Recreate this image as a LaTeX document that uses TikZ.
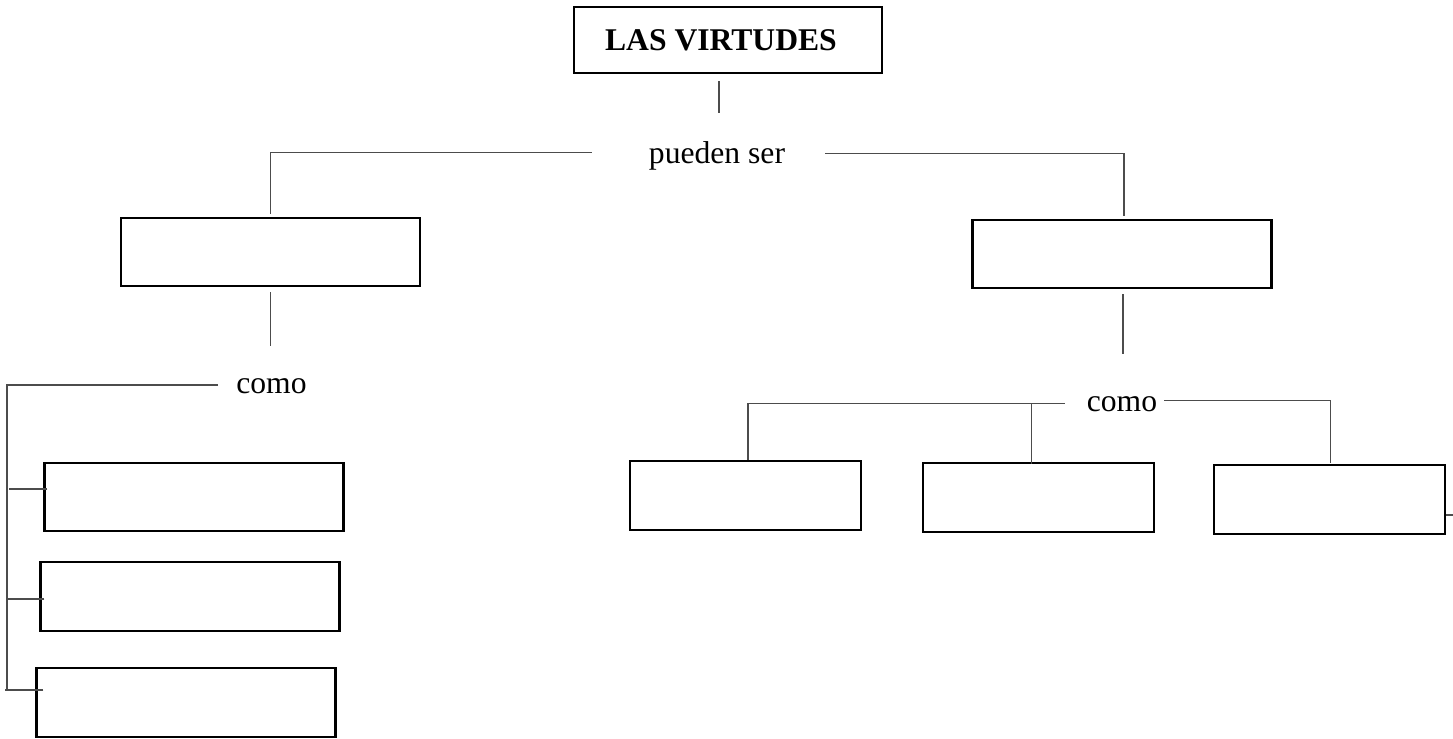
\documentclass[tikz,border=0pt]{standalone}
\usepackage{fontspec}
\setmainfont{Liberation Serif}
\tikzset{
  box/.style={draw, line width=1.3pt, inner sep=0pt, minimum width=5.98cm, minimum height=1.37cm},
  smallbox/.style={box, minimum width=4.62cm, minimum height=1.38cm},
  link/.style={draw=black!70, line width=0.7pt},
  word/.style={inner sep=0pt, font=\fontsize{18}{22}\selectfont}
}
\begin{document}
\begin{tikzpicture}[x=0.02cm, y=-0.02cm]
\useasboundingbox (0,0) rectangle (1453,738);

\node[box, minimum width=6.16cm, minimum height=1.32cm, font=\fontsize{18}{22}\selectfont\bfseries] (top) at (728,40) {LAS VIRTUDES\hspace*{8pt}};
\node[word] (pueden) at (717,156) {pueden ser};

\node[box] (L) at (270.5,252) {};
\node[box] (R) at (1122,254) {};

\node[word] (comoL) at (271.5,386) {como};
\node[word] (comoR) at (1122,404) {como};

\node[box] (A) at (194,497) {};
\node[box] (B) at (190,596.5) {};
\node[box] (C) at (186,702.5) {};

\node[smallbox] (D) at (745.5,495.5) {};
\node[smallbox] (E) at (1038.5,497.5) {};
\node[smallbox] (F) at (1329.5,499.5) {};

\draw[link] (top.south) ++(-9,7) -- ++(0,32);
\draw[link] (L.north) ++(0,-3) |- ++(321,-61);
\draw[link] (R.north) ++(2,-3) |- ++(-299,-62);
\draw[link] (L.south) ++(0,5) -- ++(0,54);
\draw[link] (R.south) ++(1,5) -- ++(0,60);

\draw[link] (comoL.west) ++(-18,-1) -| ++(-211,306);
\draw[link] (A.west) ++(4,-8) -- ++(-38,0);
\draw[link] (B.west) ++(5,2.5) -- ++(-38,0);
\draw[link] (C.west) ++(8,-12.5) -- ++(-38,0);

\draw[link] (D.north) ++(2.5,0) |- ++(317,-56);
\draw[link] (E.north) ++(-7,2) -- ++(0,-61);
\draw[link] (F.north) ++(1,-1) |- ++(-167,-62);
\draw[link] (F.east) ++(0,15.5) -- ++(8,0);
\end{tikzpicture}
\end{document}
